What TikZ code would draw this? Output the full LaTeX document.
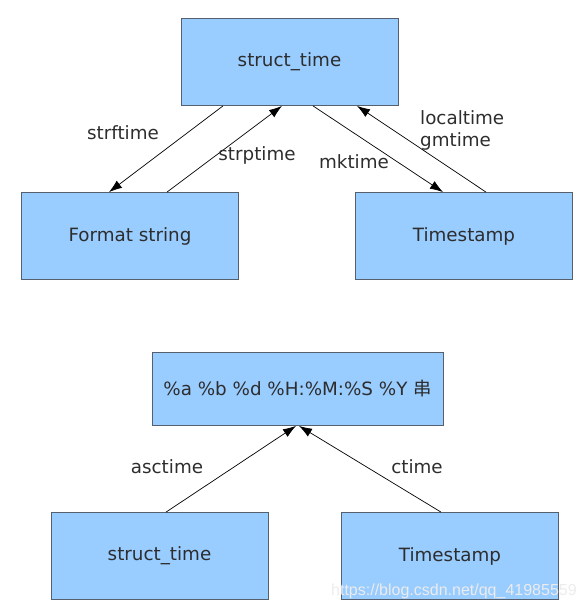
\documentclass[tikz,border=0pt]{standalone}
\usepackage{fontspec}
\setmainfont{DejaVu Sans}
\newfontfamily\cjk{Noto Sans CJK SC}
\newfontfamily\wmfont{Liberation Sans}
\definecolor{BoxBlue}{RGB}{153,204,255}
\definecolor{BoxEdge}{RGB}{85,95,110}
\definecolor{TextGray}{RGB}{45,45,45}
\usetikzlibrary{arrows.meta,positioning}

\begin{document}
\begin{tikzpicture}[x=1pt,y=-1pt,
    box/.style={draw=BoxEdge,fill=BoxBlue,text=TextGray,line width=0.8pt,
                font=\fontsize{18.3}{21}\selectfont,minimum width=217pt,minimum height=87pt,
                inner sep=0pt},
    fmtbox/.style={box,minimum width=291pt,minimum height=73pt},
    lbl/.style={text=TextGray,font=\fontsize{18.3}{22}\selectfont,inner sep=0pt},
    arr/.style={-{Latex[length=13pt,width=9pt]},black,line width=0.7pt}]
    \useasboundingbox (0,0) rectangle (584,610);
    % upper diagram
    \node[box] (st)  at (289.5,62) {struct\_time};
    \node[box] (fmt) at (130,236)  {Format string};
    \node[box] (ts)  at (464,236)  {Timestamp};
    \draw[arr] ([xshift=-66.5pt]st.south) -- ([xshift=-21pt]fmt.north);
    \draw[arr] ([xshift=37pt]fmt.north)   -- ([xshift=-7.5pt]st.south);
    \draw[arr] ([xshift=23.5pt]st.south)  -- ([xshift=-21pt]ts.north);
    \draw[arr] ([xshift=22pt]ts.north)    -- ([xshift=67.5pt]st.south);
    \node[lbl] (strf) at (123,133) {strftime};
    \node[lbl] (strp) at (257,155) {strptime};
    \node[lbl] (mk)   at (354,162) {mktime};
    \node[lbl,align=left,anchor=west] (loc) at (420,130) {localtime\\gmtime};

    % lower diagram
    \node[fmtbox] (str) at (297.5,389) {\%a \%b \%d \%H:\%M:\%S \%Y {\cjk 串}};
    \node[box] (st2) at (159.5,556) {struct\_time};
    \node[box] (ts2) at (450,556)   {Timestamp};
    \draw[arr] ([xshift=6.5pt]st2.north) -- ([xshift=-1.5pt]str.south);
    \draw[arr] ([xshift=-9pt]ts2.north)  -- ([xshift=1.5pt]str.south);
    \node[lbl] (asc) at (167,467) {asctime};
    \node[lbl] (ct)  at (417,467) {ctime};

    \node[text=gray!15,font=\wmfont\fontsize{16}{18}\selectfont,anchor=west,inner sep=0pt] (wm)
      at (331,591) {https://blog.csdn.net/qq\_41985559};
  \end{tikzpicture}
\end{document}
